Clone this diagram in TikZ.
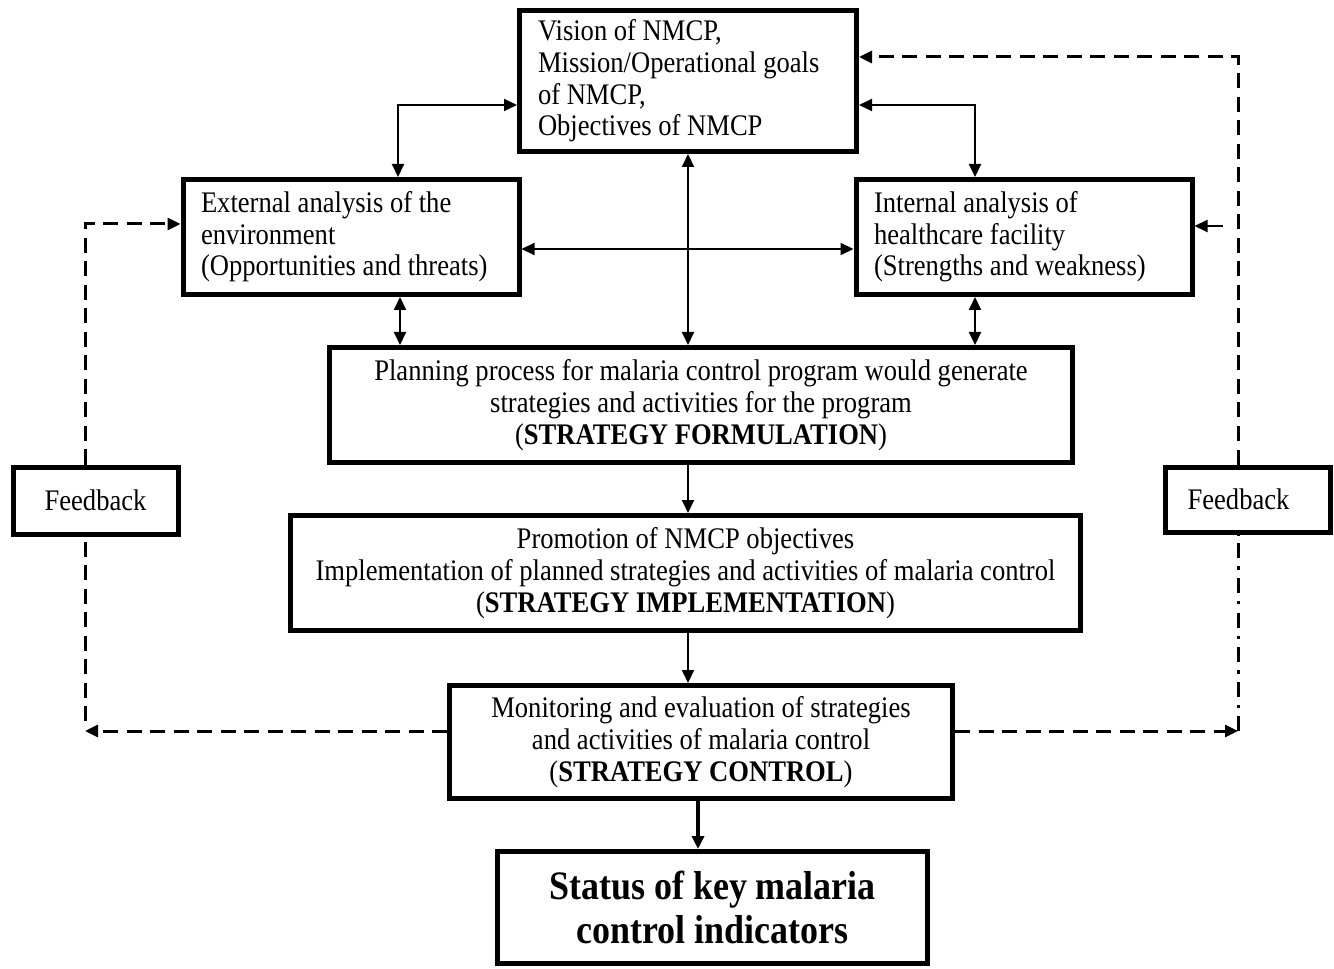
\documentclass[tikz,border=0pt]{standalone}
\usepackage{fontspec}
\setmainfont{Liberation Serif}[FakeStretch=0.89]
\usetikzlibrary{arrows.meta,positioning,calc}
\tikzset{
    % box styles
    goalbox/.style={
        rectangle, draw, line width=0.1cm, minimum width=6.7cm,
        minimum height=2.82cm, text width=6.0cm, inner xsep=0.37cm,
        align=flush left, font=\fontsize{17}{18}\selectfont
    },
    analysisbox/.style={
        rectangle, draw, line width=0.1cm, minimum width=6.66cm,
        minimum height=2.3cm, text width=6.0cm, inner xsep=0.36cm,
        align=flush left, font=\fontsize{17}{18}\selectfont
    },
    stagebox/.style={
        rectangle, draw, line width=0.1cm, minimum height=2.3cm,
        align=center, font=\fontsize{17}{18.4}\selectfont
    },
    resultbox/.style={
        rectangle, draw, line width=0.1cm, minimum width=8.6cm,
        minimum height=2.24cm, align=center,
        font=\fontsize{23}{25}\selectfont\bfseries
    },
    feedbackbox/.style={
        rectangle, draw, line width=0.1cm, minimum width=3.3cm,
        minimum height=1.34cm, font=\fontsize{17}{18}\selectfont
    },
    % connector styles
    tip/.style={-{Triangle[length=0.26cm,width=0.24cm]}},
    arrow/.style={tip, line width=0.04cm},
    dblarrow/.style={{Triangle[length=0.26cm,width=0.24cm]}-{Triangle[length=0.26cm,width=0.24cm]}, line width=0.04cm},
    feedline/.style={line width=0.06cm, dash pattern=on 0.3cm off 0.17cm},
    feedarrow/.style={feedline, tip},
    dotline/.style={line width=0.06cm, dash pattern=on 0.3cm off 0.16cm on 0.07cm off 0.16cm}
}
\begin{document}
\begin{tikzpicture}
\useasboundingbox (0,0) rectangle (26.68,19.36);

% Boxes
\node[goalbox] (vis) at (13.76,17.74) {Vision of NMCP,\\ Mission/Operational goals\\ of NMCP,\\ Objectives of NMCP};
\node[analysisbox] (ext) at (7.02,14.62) {External analysis of the\\ environment\\ (Opportunities and threats)};
\node[analysisbox] (int) at (20.48,14.62) {Internal analysis of\\ healthcare facility\\ (Strengths and weakness)};
\node[stagebox, minimum width=14.86cm] (plan) at (14.02,11.26) {Planning process for malaria control program would generate\\ strategies and activities for the program\\ (\textbf{STRATEGY FORMULATION})};
\node[stagebox, minimum width=15.8cm] (prom) at (13.71,7.9) {Promotion of NMCP objectives\\ Implementation of planned strategies and activities of malaria control\\ (\textbf{STRATEGY IMPLEMENTATION})};
\node[stagebox, minimum width=10.06cm, minimum height=2.26cm] (mon) at (14.02,4.52) {Monitoring and evaluation of strategies\\ and activities of malaria control\\ (\textbf{STRATEGY CONTROL})};
\node[resultbox] (stat) at (14.25,1.21) {Status of key malaria\\ control indicators};
\node[feedbackbox] (fbL) at (1.91,9.35) {Feedback};
\node[feedbackbox, minimum height=1.3cm] (fbR) at (24.95,9.37) {Feedback\hspace*{0.36cm}};

% Links between goals, analysis and planning
\draw[dblarrow] ([yshift=-0.48cm]vis.west) -| ([xshift=0.94cm]ext.north);
\draw[dblarrow] ([yshift=-0.48cm]vis.east) -| ([xshift=-0.98cm]int.north);
\draw[dblarrow] (vis.south) -- (vis.south |- plan.north);
\draw[dblarrow] ([yshift=-0.24cm]ext.east) -- ([yshift=-0.24cm]int.west);
\draw[dblarrow] ([xshift=0.98cm]ext.south) -- ([xshift=0.98cm]ext.south |- plan.north);
\draw[dblarrow] ([xshift=-0.98cm]int.south) -- ([xshift=-0.98cm]int.south |- plan.north);

% Main flow
\draw[arrow] (plan.south -| vis.south) -- (prom.north -| vis.south);
\draw[arrow] (prom.south -| vis.south) -- (mon.north -| vis.south);
\draw[arrow, line width=0.07cm] ([xshift=-0.06cm]mon.south) -- ([xshift=-0.06cm]mon.south |- stat.north);

% Left feedback loop
\coordinate (lbot) at (1.70,4.74);
\coordinate (ltop) at (1.70,14.88);
\draw[feedarrow] ([yshift=0.22cm]mon.west) -- (lbot);
\draw[feedline] ([yshift=0.2cm]lbot) -- (lbot |- fbL.south);
\draw[feedarrow] (ltop |- fbL.north) -- (ltop) -- (ltop -| ext.west);

% Right feedback loop
\coordinate (rbot) at (24.76,4.74);
\coordinate (rtop) at (24.76,18.22);
\coordinate (rmid) at (24.76,14.84);
\draw[feedarrow] ([yshift=0.22cm]mon.east) -- (rbot);
\draw[dotline] (rbot) -- (rbot |- fbR.south);
\draw[feedarrow] (rtop |- fbR.north) -- (rtop) -- (rtop -| vis.east);
\draw[arrow, shorten <=0.3cm] (rmid) -- (rmid -| int.east);

\end{tikzpicture}
\end{document}
